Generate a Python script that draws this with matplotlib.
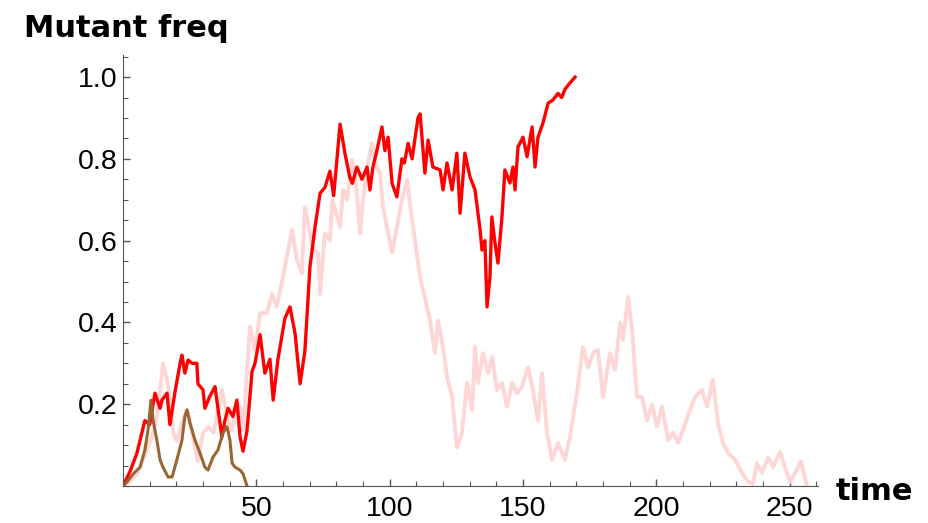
import numpy as np
import matplotlib.pyplot as plt
from matplotlib.ticker import MultipleLocator

plt.rcParams['font.family'] = ['Liberation Sans', 'DejaVu Sans']

# red run (goes to fixation)
red_t = [0, 2.6, 5.2, 8.2, 10, 12, 13.9, 14.6, 16.5, 17.6, 19.5, 21.4, 22.1, 23.2, 24.4,
         25.9, 27.7, 28.1, 30, 30.7, 32.6, 34.5, 35.6, 37.1, 38.2, 39.4, 41.2, 42.7, 43.9,
         45, 46.5, 48.4, 49.5, 51.4, 53.2, 55.1, 56.3, 58.1, 60.7, 62.6, 64.5, 66.4, 68.2,
         70.1, 72, 73.9, 75.7, 77.6, 79, 81.4, 83.2, 85, 86, 87.7, 89.6, 91.5, 92.6, 93.7,
         95.2, 97.1, 98.2, 99.4, 100.9, 102.7, 104.6, 105.5, 106.9, 108.4, 110.6, 111.4,
         113.2, 114.4, 116.2, 118.9, 120, 121.5, 123.4, 125.2, 126.4, 128.2, 130.1, 132,
         133.9, 134.6, 135.7, 136.5, 137.6, 138.3, 139.5, 140.6, 142.1, 143.2, 145.1, 146.2,
         147, 148.1, 150, 151.5, 153.4, 154.5, 155.6, 157.5, 159.4, 161.2, 163.1, 164.5,
         165.7, 167.5, 169.5]
red_f = [0, 0.035, 0.08, 0.16, 0.15, 0.227, 0.19, 0.21, 0.227, 0.15, 0.23, 0.30, 0.32, 0.276,
         0.308, 0.30, 0.30, 0.25, 0.235, 0.19, 0.22, 0.243, 0.19, 0.12, 0.16, 0.19, 0.17, 0.21,
         0.12, 0.085, 0.135, 0.28, 0.30, 0.37, 0.276, 0.31, 0.21, 0.31, 0.41, 0.438, 0.374,
         0.25, 0.33, 0.536, 0.633, 0.716, 0.73, 0.77, 0.71, 0.885, 0.814, 0.756, 0.74, 0.78,
         0.75, 0.78, 0.724, 0.78, 0.82, 0.878, 0.82, 0.853, 0.74, 0.707, 0.80, 0.79, 0.838,
         0.80, 0.90, 0.91, 0.765, 0.846, 0.78, 0.773, 0.724, 0.79, 0.724, 0.814, 0.667, 0.814,
         0.756, 0.724, 0.626, 0.577, 0.60, 0.438, 0.511, 0.658, 0.594, 0.545, 0.658, 0.773,
         0.741, 0.78, 0.724, 0.829, 0.853, 0.805, 0.878, 0.78, 0.853, 0.888, 0.936, 0.944,
         0.96, 0.95, 0.97, 0.985, 1.0]

# pale run (lost near t=257)
pink_t = [0, 2.6, 5.2, 7.5, 9, 10.9, 12.7, 13.9, 15, 16.5, 17.6, 18.8, 20.2, 22.1, 24, 25.1,
          26.5, 28, 30, 32, 34, 35.5, 37.1, 38.2, 39.4, 40.8, 42, 43, 44, 45, 46.5, 47.6,
          49.5, 51.4, 53.9, 55.9, 57.6, 60, 61.9, 63.4, 65.2, 67.1, 68.2, 70.1, 71.2, 73.1,
          73.9, 75.7, 77.6, 78.5, 81.4, 82.5, 84, 85.9, 87, 88.9, 90, 91.5, 93.4, 95, 96.4,
          97.5, 99, 100.9, 102.7, 104.6, 106.5, 107.6, 109.5, 111.4, 113.2, 115.1, 117,
          118.1, 120, 121.5, 123.4, 125.2, 127.1, 129, 130.9, 132, 133.1, 135, 136.9, 138.4,
          140.2, 142.1, 144, 145.9, 147.7, 149.6, 151.9, 153.7, 155.6, 157.1, 159, 160.9,
          163.1, 165.7, 167.6, 170.2, 172.5, 174.4, 176.3, 178.1, 180, 182.6, 184.5, 186.4,
          187.5, 189.4, 190.9, 192.7, 194.6, 196.5, 198.4, 200.2, 202.1, 204.4, 206.2, 208.1,
          210, 212.6, 214.5, 217.1, 219, 221.2, 223.1, 225, 226.9, 229.5, 232.1, 234.4,
          236.2, 237.7, 239.6, 241.9, 243.7, 246.4, 248.2, 250.1, 252, 254.2, 256.5]
pink_f = [0, 0.01, 0.03, 0.064, 0.09, 0.12, 0.17, 0.235, 0.30, 0.26, 0.21, 0.13, 0.11, 0.154,
          0.186, 0.16, 0.11, 0.06, 0.13, 0.145, 0.13, 0.18, 0.235, 0.20, 0.16, 0.135, 0.18,
          0.20, 0.19, 0.137, 0.284, 0.39, 0.332, 0.423, 0.423, 0.47, 0.438, 0.511, 0.577,
          0.626, 0.553, 0.52, 0.682, 0.618, 0.577, 0.57, 0.47, 0.618, 0.60, 0.70, 0.633,
          0.724, 0.70, 0.797, 0.765, 0.618, 0.70, 0.78, 0.838, 0.78, 0.765, 0.682, 0.633,
          0.57, 0.633, 0.70, 0.748, 0.69, 0.60, 0.51, 0.46, 0.405, 0.325, 0.405, 0.34, 0.267,
          0.218, 0.095, 0.13, 0.252, 0.186, 0.34, 0.252, 0.325, 0.276, 0.316, 0.235, 0.252,
          0.194, 0.252, 0.227, 0.243, 0.29, 0.235, 0.16, 0.276, 0.13, 0.064, 0.105, 0.064,
          0.12, 0.227, 0.34, 0.29, 0.325, 0.333, 0.218, 0.325, 0.284, 0.40, 0.357, 0.462,
          0.38, 0.218, 0.218, 0.16, 0.20, 0.145, 0.194, 0.112, 0.13, 0.105, 0.137, 0.186,
          0.218, 0.235, 0.194, 0.26, 0.154, 0.105, 0.08, 0.064, 0.032, 0.01, 0.005, 0.056,
          0.032, 0.07, 0.046, 0.083, 0.046, 0.01, 0.032, 0.06, 0.0]

# brown run (lost early)
brown_t = [0, 1.5, 3.9, 6.4, 8.2, 9.4, 10.5, 11.3, 12.7, 13.9, 15, 16.9, 18.4, 20.2, 22.1,
           23.2, 24, 25.1, 27, 28.9, 30.7, 31.9, 33.7, 35.6, 37.5, 39, 40.1, 40.9, 42, 43.9,
           45, 46.5]
brown_f = [0, 0.01, 0.03, 0.046, 0.088, 0.137, 0.21, 0.16, 0.112, 0.064, 0.046, 0.022, 0.022,
           0.064, 0.112, 0.17, 0.186, 0.154, 0.112, 0.08, 0.046, 0.039, 0.07, 0.088, 0.13,
           0.145, 0.112, 0.056, 0.046, 0.039, 0.03, 0.0]

fig = plt.figure(figsize=(9.29, 5.23), dpi=100)
ax = fig.add_axes([123 / 929, 37 / 523, 695 / 929, 431 / 523])

ax.plot(pink_t, pink_f, color='#ffd6d6', lw=2.8)
ax.plot(red_t, red_f, color='#ff0000', lw=2.4)
ax.plot(brown_t, brown_f, color='#996633', lw=2.2)

ax.set_xlim(0, 260.6)
ax.set_ylim(0, 1.054)
ax.spines['top'].set_visible(False)
ax.spines['right'].set_visible(False)
for s in ['left', 'bottom']:
    ax.spines[s].set_color('#555555')

ax.set_xticks([50, 100, 150, 200, 250])
ax.set_yticks([0.2, 0.4, 0.6, 0.8, 1.0])
ax.set_yticklabels(['0.2', '0.4', '0.6', '0.8', '1.0'])
ax.xaxis.set_minor_locator(MultipleLocator(10))
ax.yaxis.set_minor_locator(MultipleLocator(0.05))
ax.tick_params(which='both', direction='in', color='#555555', labelsize=20.5)
ax.tick_params(which='major', length=5, width=1)
ax.tick_params(which='minor', length=3.6, width=0.8)
ax.tick_params(axis='y', pad=4)
ax.tick_params(axis='x', pad=7)

fig.text(24 / 929, 1 - 37 / 523, 'Mutant freq', fontsize=22, fontweight='bold',
         family='DejaVu Sans', ha='left', va='baseline')
fig.text(836 / 929, 1 - 500 / 523, 'time', fontsize=22, fontweight='bold',
         family='DejaVu Sans', ha='left', va='baseline')

fig.savefig('out.png', dpi=100)
